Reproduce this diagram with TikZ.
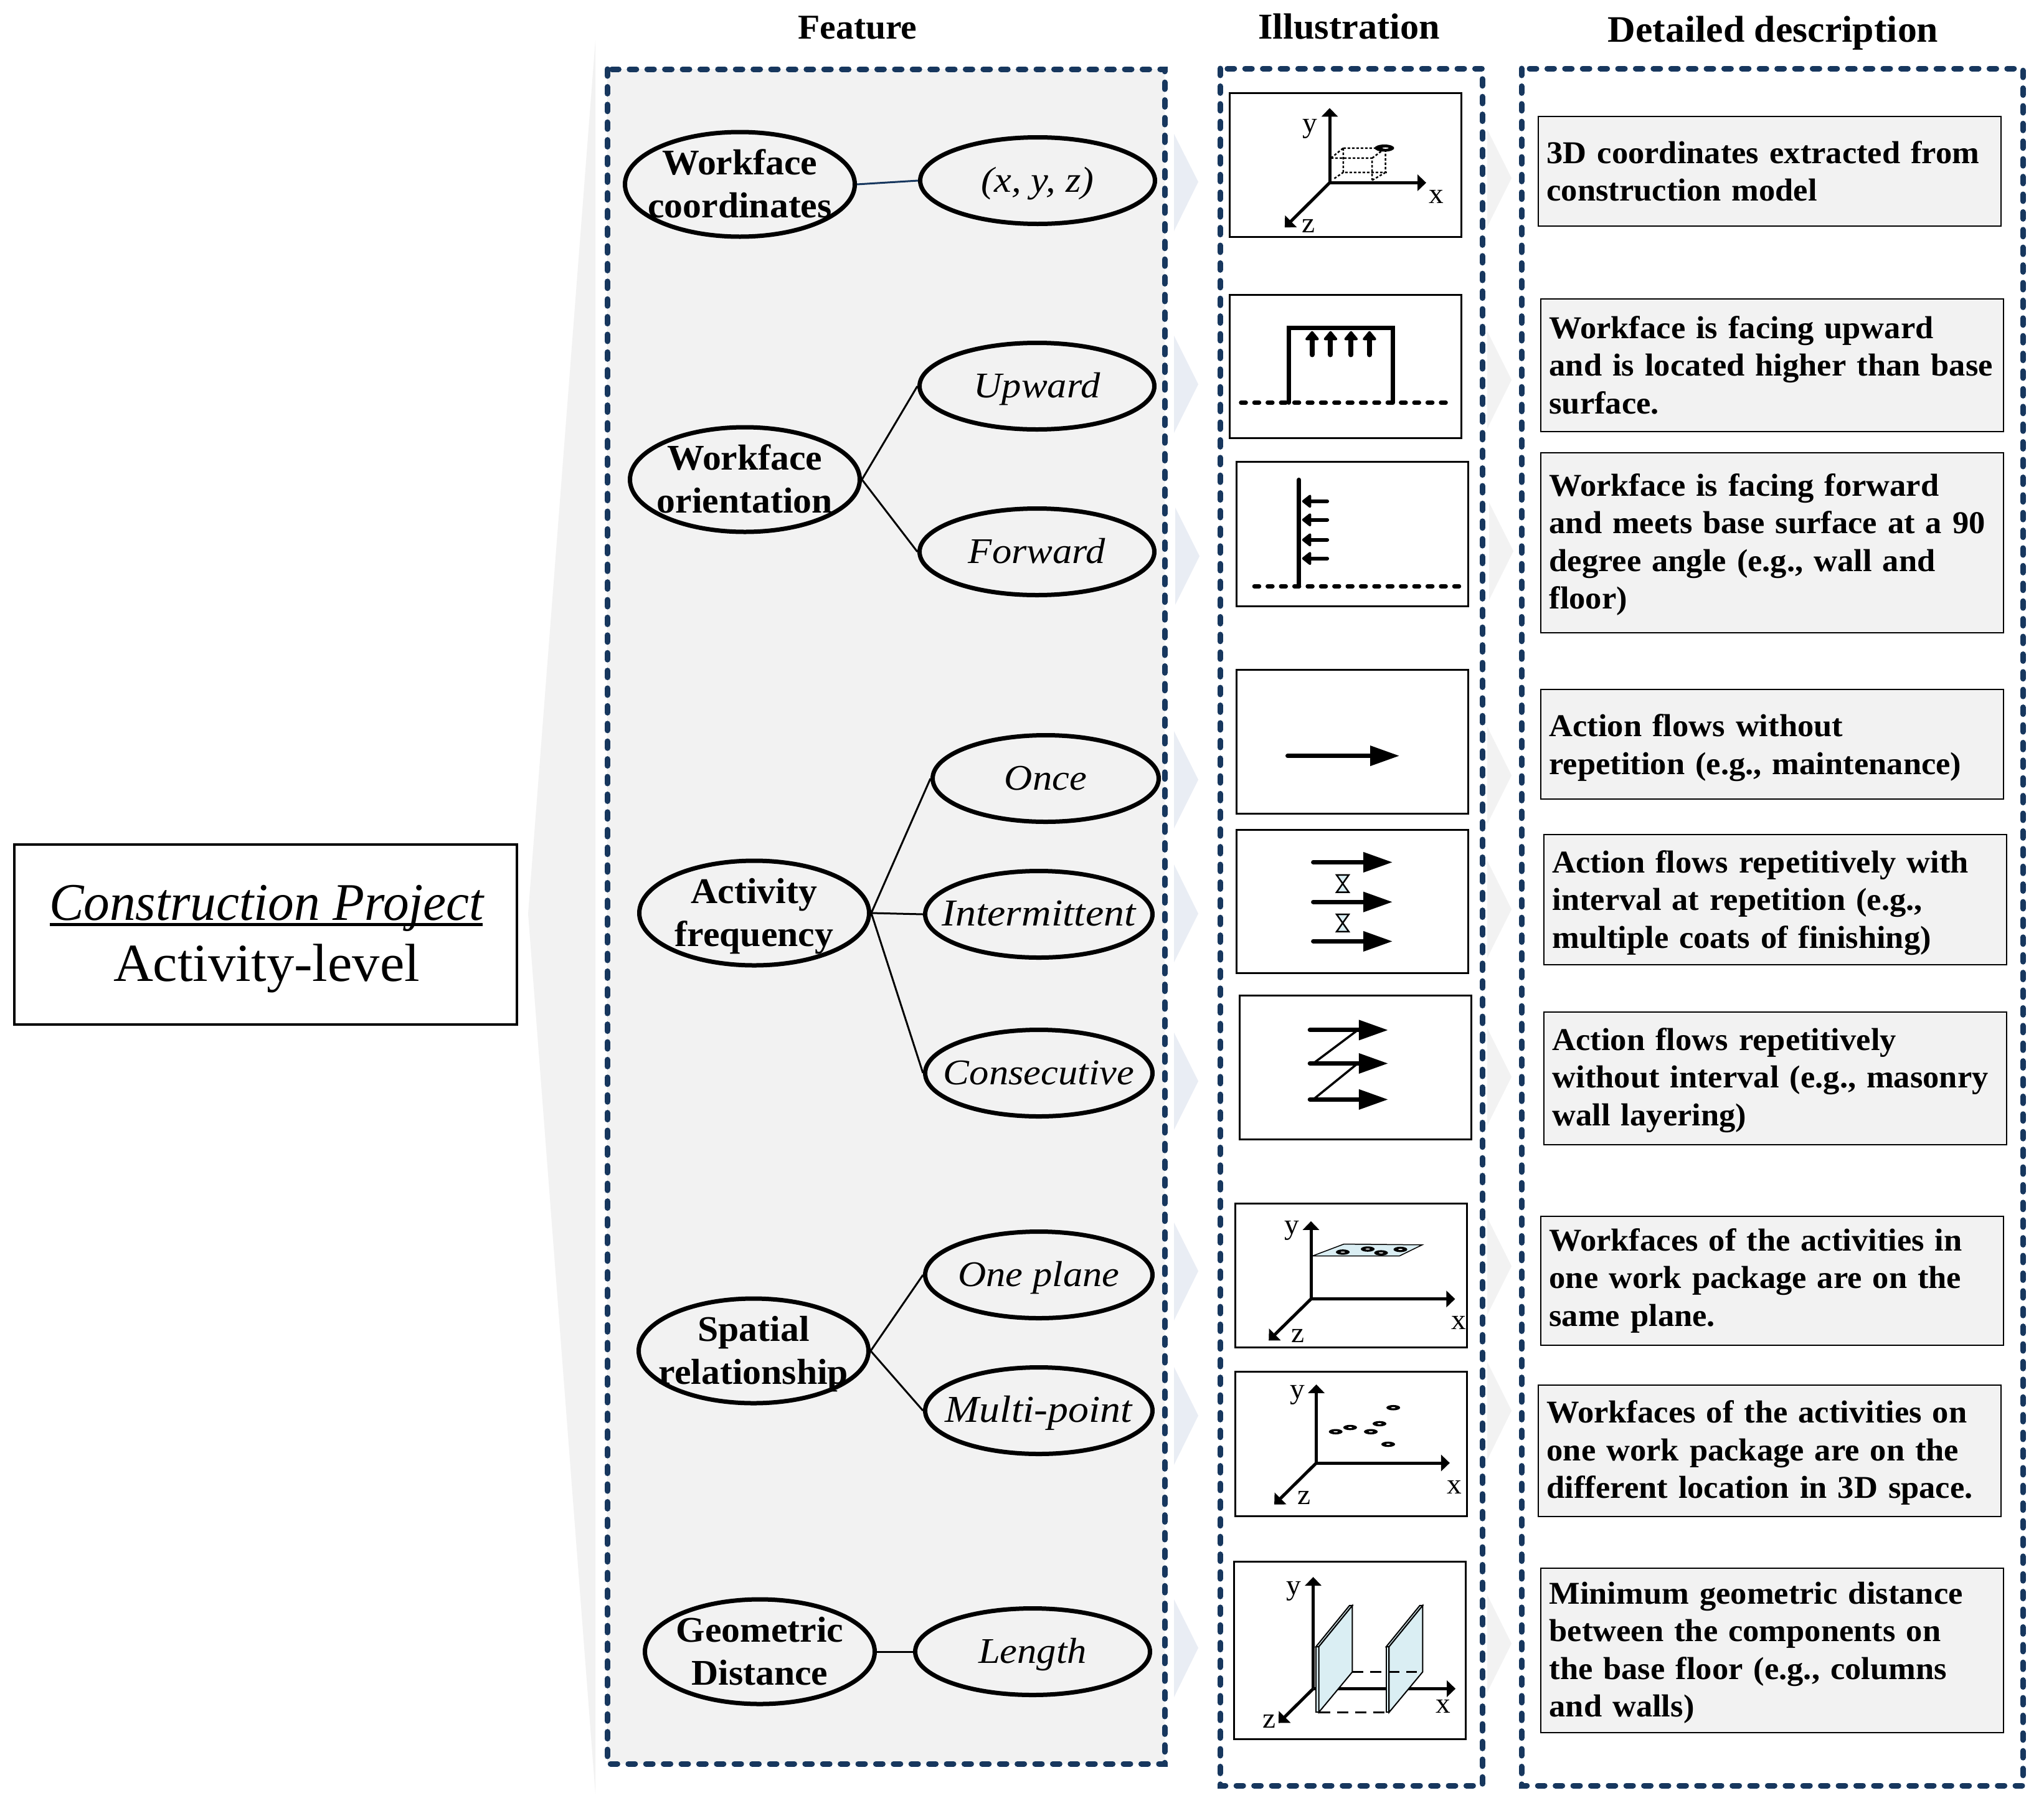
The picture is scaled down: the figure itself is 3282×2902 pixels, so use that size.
\documentclass[tikz,border=0pt]{standalone}
\usepackage{fontspec}
\usetikzlibrary{arrows.meta,shapes.geometric}
\setmainfont[FakeStretch=1.03,ItalicFeatures={FakeStretch=1.08}]{Liberation Serif}
\newfontfamily\bigf[FakeStretch=0.98]{Liberation Serif}
\definecolor{navy}{HTML}{17375E}
\definecolor{paleg}{HTML}{F2F2F2}
\definecolor{paleb}{HTML}{E9EDF4}
\definecolor{ice}{HTML}{DAEEF3}
\newcommand{\fs}[1]{\fontsize{#1}{#1}\selectfont}
% text that does not size its ellipse
\newcommand{\tl}[2]{\makebox[0pt]{\raisebox{16pt}[0pt][0pt]{#1}}\makebox[0pt]{\raisebox{-53pt}[0pt][0pt]{#2}}}
\newcommand{\ol}[1]{\makebox[0pt]{\raisebox{-18pt}[0pt][0pt]{#1}}}
\tikzset{
  x=1pt,y=-1pt,
  z1/.style={shift={(1880,100)},xscale=0.35714,yscale=0.57398},
  z2/.style={shift={(1880,1040)},xscale=0.35714,yscale=0.53571},
  z3/.style={shift={(1880,1880)},xscale=0.35714,yscale=0.61224},
  dashbox/.style={draw=navy,line width=9pt,line cap=round,dash pattern=on 11pt off 17.4pt},
  imgbox/.style={draw=black,line width=3pt,fill=white},
  feat/.style={ellipse,draw=black,line width=7pt,fill=paleg,inner sep=0pt,font=\fs{58}\bfseries,minimum width=369pt,minimum height=168pt},
  val/.style={ellipse,draw=black,line width=7pt,fill=paleg,inner sep=0pt,font=\fs{58}\itshape,minimum height=139pt},
  link/.style={draw=black,line width=3pt},
  detail/.style={rectangle,draw=black,line width=2pt,fill=paleg,inner xsep=14pt,inner ysep=0pt,align=left,font=\fontsize{51}{60.5}\selectfont\bfseries,text width=715pt,minimum width=743pt},
  dn/.style={execute at begin node={\rule{0pt}{#1pt}}},
  head/.style={anchor=base},
  axl/.style={font=\fs{46},inner sep=0pt},
  ax/.style={line width=5pt,-{Triangle[length=14pt,width=26pt]}},
  bigar/.style={line width=7pt,line cap=round,-{Triangle[length=47pt,width=31pt]}},
  dashln/.style={line width=6.5pt,line cap=round,dash pattern=on 8pt off 13.4pt},
  thick7/.style={line width=7pt},
  chevb/.style={fill=paleb},
  chevg/.style={fill=paleg},
}
\newcommand{\chev}[5]{\fill[#1] (#2,#3) -- (#2+39,#5) -- (#2,#4) -- cycle;}
\begin{document}
\begin{tikzpicture}
\useasboundingbox (0,0) rectangle (3282,2902);
\fill[white] (0,0) rectangle (3282,2902);
% big gray chevron
\fill[paleg] (956,65) -- (848,1467) -- (956,2880) -- cycle;
% main box
\node (main) [draw=black,line width=4pt,fill=white,minimum width=807pt,minimum height=289pt,inner sep=0pt] at (426,1500) {};
\node (mainA) [font=\fs{85}\bigf\itshape,anchor=base,inner sep=0pt] at (428,1477) {Construction Project};
\draw[line width=5pt] (80,1484) -- (775,1484);
\node (mainB) [font=\fs{86},anchor=base,inner sep=0pt] at (428,1575) {Activity-level};
% headers
\node (h1) [head,font=\fs{56}\bfseries] at (1377,62) {Feature};
\node (h2) [head,font=\fs{58.5}\bfseries] at (2166,62) {Illustration};
\node (h3) [head,font=\fs{60}\bfseries] at (2847,67) {Detailed description};
% column boxes
\filldraw[dashbox,fill=paleg] (975,111) rectangle (1870,2832);
\draw[dashbox] (1959,110) rectangle (2380,2867);
\draw[dashbox] (2443,110) rectangle (3248,2867);
% small chevrons left
\chev{chevb}{1885}{215}{371}{292}
\chev{chevb}{1885}{539}{695}{617}
\chev{chevb}{1887}{815}{971}{893}
\chev{chevb}{1885}{1174}{1330}{1252}
\chev{chevb}{1885}{1388}{1545}{1467}
\chev{chevb}{1885}{1658}{1814}{1736}
\chev{chevb}{1885}{1963}{2120}{2041}
\chev{chevb}{1885}{2195}{2352}{2273}
\chev{chevb}{1885}{2568}{2725}{2646}
% small chevrons right
\chev{chevg}{2388}{208}{364}{286}
\chev{chevg}{2388}{532}{688}{610}
\chev{chevg}{2391}{807}{963}{885}
\chev{chevg}{2388}{1167}{1323}{1245}
\chev{chevg}{2388}{1382}{1538}{1460}
\chev{chevg}{2388}{1651}{1807}{1729}
\chev{chevg}{2388}{1955}{2111}{2033}
\chev{chevg}{2388}{2187}{2344}{2265}
\chev{chevg}{2388}{2561}{2717}{2639}
% ellipses
\node (f1) [feat] at (1188,296) {\tl{Workface}{coordinates}};
\node (v1) [val,minimum width=377pt] at (1666,290) {\ol{(x, y, z)}};
\node (f2) [feat] at (1196,770) {\tl{Workface}{orientation}};
\node (v2) [val,minimum width=377pt] at (1665,620) {\ol{Upward}};
\node (v3) [val,minimum width=377pt] at (1665,886) {\ol{Forward}};
\node (f3) [feat] at (1211,1466) {\tl{Activity}{frequency}};
\node (v4) [val,minimum width=363pt] at (1679,1250) {\ol{Once}};
\node (v5) [val,minimum width=365pt,font=\fs{61}\itshape] at (1668,1468) {\ol{Intermittent}};
\node (v6) [val,minimum width=365pt] at (1668,1723) {\ol{Consecutive}};
\node (f4) [feat] at (1210,2169) {\tl{Spatial}{relationship}};
\node (v7) [val,minimum width=365pt] at (1668,2047) {\ol{One plane}};
\node (v8) [val,minimum width=365pt,font=\fs{61}\itshape] at (1668,2265) {\ol{Multi-point}};
\node (f5) [feat] at (1220,2652) {\tl{Geometric}{Distance}};
\node (v9) [val,minimum width=377pt] at (1658,2652) {\ol{Length}};
% connectors
\draw[link,draw=navy] (f1.east) -- (v1.west);
\draw[link] (f2.east) -- (v2.west);
\draw[link] (f2.east) -- (v3.west);
\draw[link] (f3.east) -- (v4.west);
\draw[link] (f3.east) -- (v5.west);
\draw[link] (f3.east) -- (v6.west);
\draw[link] (f4.east) -- (v7.west);
\draw[link] (f4.east) -- (v8.west);
\draw[link] (f5.east) -- (v9.west);
% detail boxes
\node (d1) [detail,minimum height=176pt] at (2841,275) {3D coordinates extracted from\\construction model};
\node (d2) [detail,minimum height=213pt] at (2845,586) {Workface is facing upward\\\mbox{and is located higher than base}\\surface.};
\node (d3) [detail,dn=43,minimum height=289pt] at (2845,871) {Workface is facing forward\\and meets base surface at a 90\\degree angle (e.g., wall and\\floor)};
\node (d4) [detail,dn=47,minimum height=176pt] at (2845,1195) {Action flows without\\repetition (e.g., maintenance)};
\node (d5) [detail,dn=47,minimum height=209pt] at (2850,1444) {Action flows repetitively with\\interval at repetition (e.g.,\\multiple coats of finishing)};
\node (d6) [detail,dn=43,minimum height=213pt] at (2850,1731) {Action flows repetitively\\without interval (e.g., masonry\\wall layering)};
\node (d7) [detail,minimum height=207pt] at (2845,2056) {Workfaces of the activities in\\one work package are on the\\same plane.};
\node (d8) [detail,dn=43,minimum height=211pt] at (2841,2329) {Workfaces of the activities on\\one work package are on the\\different location in 3D space.};
\node (d9) [detail,dn=43,minimum height=264pt] at (2845,2650) {Minimum geometric distance\\between the components on\\the base floor (e.g., columns\\and walls)};
% image frames
\draw[imgbox] (1974,149) rectangle (2346,380);
\draw[imgbox] (1974,473) rectangle (2346,703);
\draw[imgbox] (1985,741) rectangle (2357,973);
\draw[imgbox] (1985,1075) rectangle (2357,1306);
\draw[imgbox] (1985,1332) rectangle (2357,1562);
\draw[imgbox] (1990,1598) rectangle (2362,1829);
\draw[imgbox] (1983,1932) rectangle (2355,2163);
\draw[imgbox] (1983,2202) rectangle (2355,2434);
\draw[imgbox] (1981,2507) rectangle (2353,2792);
% image 1
\begin{scope}[z1]
\draw[ax] (714,337) -- (714,128);
\draw[ax] (714,337) -- (1148,337);
\draw[ax] (714,337) -- (512,462);
\node (a1y) [axl] at (625,187) {y};
\node (a1x) [axl] at (1195,377) {x};
\node (a1z) [axl] at (620,458) {z};
\draw[line width=2.5pt,dash pattern=on 4pt off 3pt] (720,268) -- (905,268) -- (905,330) (775,240) -- (965,240) -- (965,308) (775,240) -- (775,308) -- (975,308) (720,268) -- (775,240) (905,268) -- (965,240) (735,325) -- (775,308) (905,330) -- (965,308);
\fill[black] (960,240) ellipse [x radius=44,y radius=10];
\fill[white] (965,240) ellipse [x radius=14,y radius=2];
% image 2
\draw[thick7,line cap=round,line join=miter] (530,952) -- (530,743) -- (998,743) -- (998,952);
\draw[dashln] (315,952) -- (1248,952);
\foreach \xx in {635,718,810,893}
  \draw[line width=8pt,line cap=round,-{Triangle[length=16pt,width=25pt,round]}] (\xx,818) -- (\xx,752);
% image 3
\draw[thick7,line cap=round] (576,1168) -- (576,1465);
\draw[dashln] (375,1466) -- (1308,1466);
\foreach \yy in {1228,1280,1336,1388}
  \draw[line width=6pt,line cap=round,-{Triangle[length=16pt,width=24pt,round]}] (703,\yy) -- (590,\yy);
\end{scope}
\begin{scope}[z2]
% image 4
\draw[bigar] (525,324) -- (1028,324);
% image 5
\draw[bigar] (640,643) -- (997,643);
\draw[bigar] (640,762) -- (997,762);
\draw[bigar] (640,880) -- (997,880);
\draw[line width=2.5pt,fill=ice] (745,681) -- (800,681) -- (745,733) -- (800,733) -- cycle;
\draw[line width=2.5pt,fill=ice] (745,799) -- (800,799) -- (745,851) -- (800,851) -- cycle;
% image 6
\draw[line width=3.5pt] (640,1246) -- (840,1146) (640,1354) -- (840,1246);
\draw[bigar] (625,1146) -- (977,1146);
\draw[bigar] (625,1246) -- (977,1246);
\draw[bigar] (625,1354) -- (977,1354);
\end{scope}
\begin{scope}[z3]
% image 7
\draw[ax] (630,336) -- (630,132);
\draw[ax] (630,336) -- (1278,336);
\draw[ax] (630,336) -- (440,445);
\node (a7y) [axl] at (545,157) {y};
\node (a7x) [axl] at (1295,398) {x};
\node (a7z) [axl] at (570,433) {z};
\draw[line width=1.5pt,fill=ice] (637,223) -- (778,192) -- (1130,194) -- (1028,223) -- cycle;
\foreach \px/\py in {773/213,885/205,945/215,1032/206}{
  \fill[black] (\px,\py) ellipse [x radius=31,y radius=7];
  \fill[white] (\px,\py) ellipse [x radius=10,y radius=1.5];
}
% image 8
\draw[ax] (654,766) -- (654,560);
\draw[ax] (654,766) -- (1254,766);
\draw[ax] (654,766) -- (465,875);
\node (a8y) [axl] at (570,587) {y};
\node (a8x) [axl] at (1275,830) {x};
\node (a8z) [axl] at (598,858) {z};
\foreach \px/\py in {1000/621,938/663,806/673,741/684,899/684,977/717}{
  \fill[black] (\px,\py) ellipse [x radius=31,y radius=7];
  \fill[white] (\px,\py) ellipse [x radius=10,y radius=1.5];
}
% image 9
\draw[ax] (640,1358) -- (640,1065);
\draw[ax] (640,1358) -- (1280,1358);
\draw[ax] (640,1358) -- (484,1448);
\node (a9y) [axl] at (553,1103) {y};
\node (a9x) [axl] at (1225,1405) {x};
\node (a9z) [axl] at (442,1443) {z};
\draw[line width=2.5pt,dash pattern=on 18pt off 11pt] (665,1420) -- (968,1420);
\foreach \dx in {0,316}{
  \draw[line width=2pt,fill=ice] (652+\dx,1248) -- (665+\dx,1248) -- (665+\dx,1420) -- (652+\dx,1420) -- cycle;
  \draw[line width=2pt,fill=ice] (652+\dx,1248) -- (803+\dx,1140) -- (816+\dx,1140) -- (665+\dx,1248) -- cycle;
  \draw[line width=2pt,fill=ice] (665+\dx,1248) -- (816+\dx,1140) -- (816+\dx,1314) -- (665+\dx,1420) -- cycle;
}
\draw[line width=2.5pt,dash pattern=on 18pt off 11pt] (816,1314) -- (1105,1314);
\end{scope}
\end{tikzpicture}
\end{document}
